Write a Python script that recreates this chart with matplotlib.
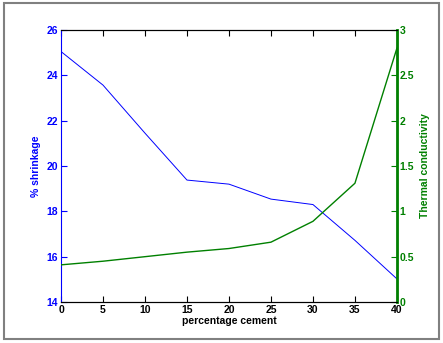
import matplotlib
matplotlib.use("Agg")
import matplotlib.pyplot as plt
from matplotlib.patches import Rectangle

cement = [0, 5, 10, 15, 20, 25, 30, 35, 40]
shrinkage = [25.05, 23.57, 21.45, 19.38, 19.2, 18.54, 18.3, 16.72, 15.02]
conductivity = [0.41, 0.45, 0.5, 0.55, 0.59, 0.66, 0.89, 1.31, 2.8]

plt.rcParams["font.family"] = ["Liberation Sans", "DejaVu Sans"]
plt.rcParams["font.weight"] = "bold"
plt.rcParams["font.size"] = 7.5

fig = plt.figure(figsize=(4.43, 3.43), dpi=100)
fig.patches.append(Rectangle((0.008, 0.012), 0.984, 0.978, transform=fig.transFigure,
                             fill=False, edgecolor="#808080", linewidth=1.5))

ax1 = fig.add_axes([0.1377, 0.1195, 0.7583, 0.793])
ax1.plot(cement, shrinkage, color="blue", linewidth=0.7)
ax1.set_xlim(0, 40)
ax1.set_ylim(14, 26)
ax1.set_xticks(cement)
ax1.set_yticks([14, 16, 18, 20, 22, 24, 26])
ax1.tick_params(axis="x", direction="in", top=True, length=4, colors="black", pad=2)
ax1.tick_params(axis="y", direction="in", length=4, colors="blue", pad=2)
ax1.spines["left"].set_color("blue")
ax1.set_xlabel("percentage cement", fontweight="bold", labelpad=1)
ax1.set_ylabel("% shrinkage", color="blue", fontweight="bold", labelpad=4)

ax2 = ax1.twinx()
ax2.plot(cement, conductivity, color="green", linewidth=1.0)
ax2.set_ylim(0, 3)
ax2.set_yticks([0, 0.5, 1, 1.5, 2, 2.5, 3])
ax2.set_yticklabels(["0", "0.5", "1", "1.5", "2", "2.5", "3"])
ax2.tick_params(axis="y", direction="in", length=4, colors="green", pad=2)
ax2.spines["right"].set_color("green")
ax2.spines["right"].set_linewidth(2)
ax2.spines["left"].set_visible(False)
ax2.set_ylabel("Thermal conductivity", color="green", fontweight="bold", labelpad=4)

fig.savefig("out.png", dpi=100)
